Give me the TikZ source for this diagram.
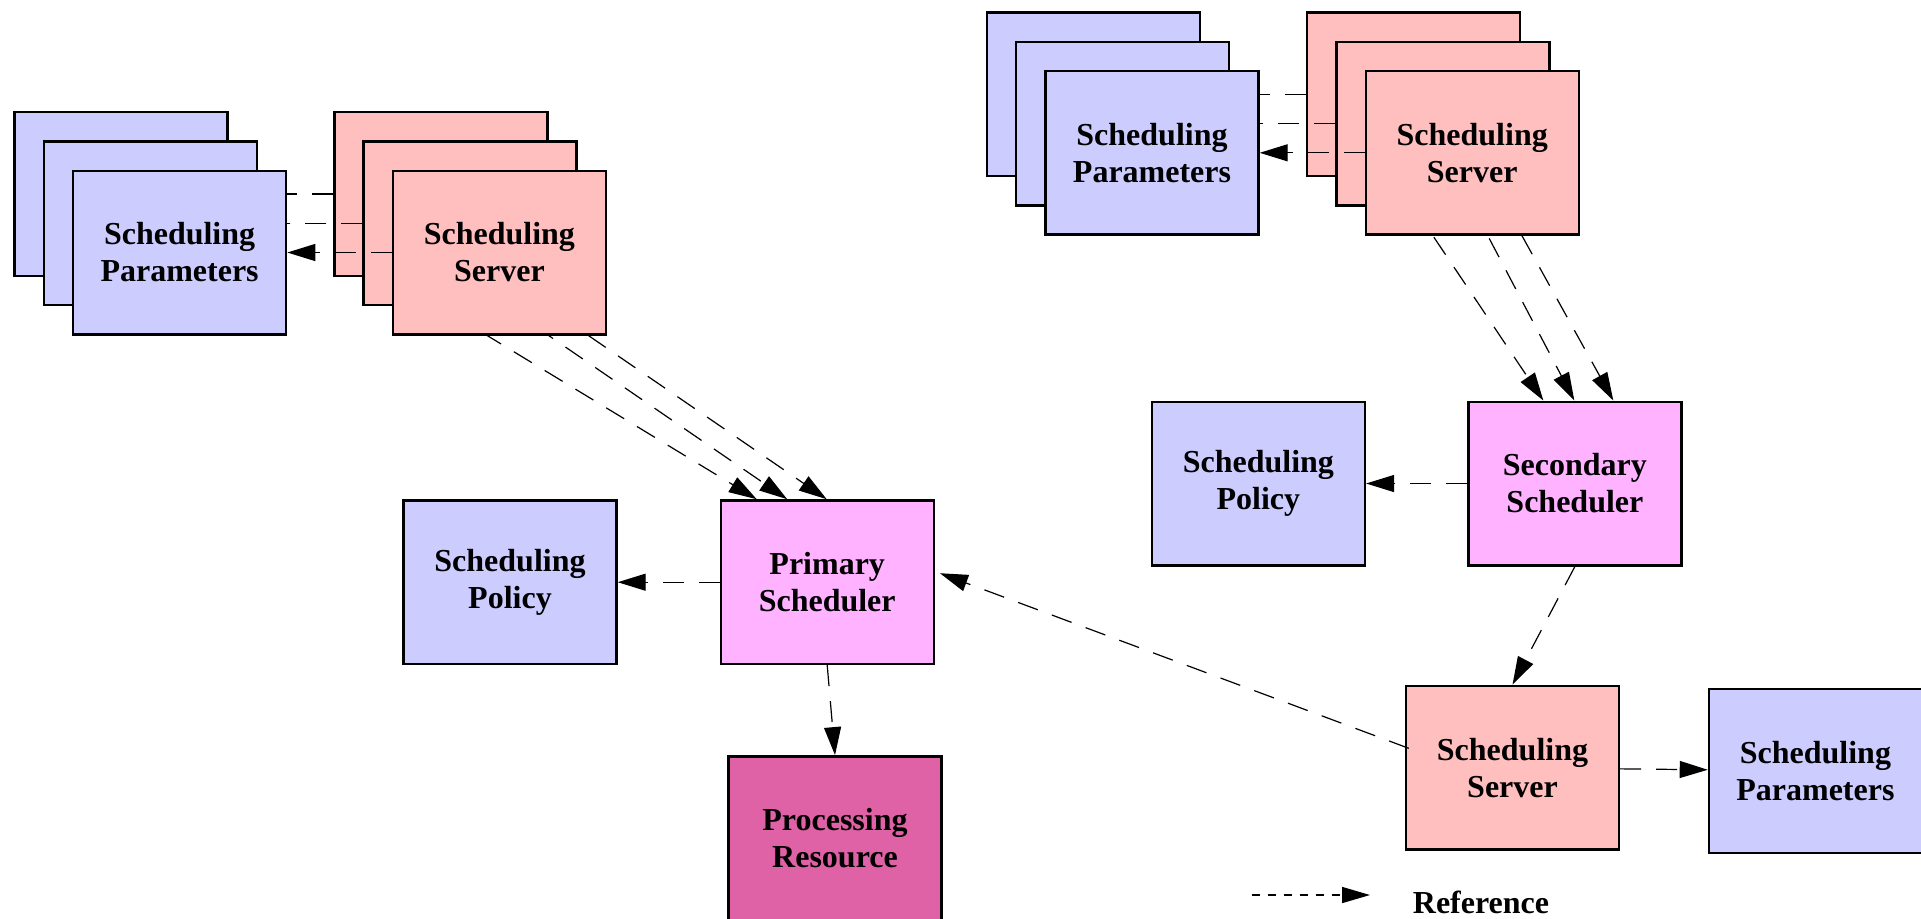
\documentclass[tikz,border=0pt]{standalone}
\usepackage{fontspec}
\setmainfont{Liberation Serif}
\usetikzlibrary{arrows.meta,calc}
\definecolor{parblue}{RGB}{204,204,255}
\definecolor{srvpink}{RGB}{255,191,191}
\definecolor{schedmag}{RGB}{255,178,255}
\definecolor{resmag}{RGB}{224,98,166}

\begin{document}
\begin{tikzpicture}[x=0.5pt,y=-0.5pt,
  box/.style={draw=black, line width=1.2pt, minimum width=106.5pt, minimum height=81.8pt,
              inner sep=0pt, align=center, font=\fontsize{16}{18.5}\selectfont\bfseries},
  params/.style={box, fill=parblue},
  server/.style={box, fill=srvpink},
  sched/.style={box, fill=schedmag},
  resource/.style={box, fill=resmag},
  ref/.style={line width=0.6pt, dash pattern=on 10.5pt off 7.5pt,
              -{Triangle[length=14pt,width=8.5pt]}},
  legendref/.style={line width=0.8pt, dash pattern=on 4pt off 4pt,
              -{Triangle[length=14pt,width=8pt]}},
]
\useasboundingbox (0,0) rectangle (1921,918);

% ---- schedulers, policies, resource ----
\node[sched] (prim) at (827.2,582.2) {Primary\\Scheduler};
\node[params] (lpol) at (510,582.2) {Scheduling\\Policy};
\node[resource] (proc) at (835,838.1) {Processing\\Resource};
\node[sched] (sec) at (1574.9,483.5) {Secondary\\Scheduler};
\node[params] (rpol) at (1258.4,483.5) {Scheduling\\Policy};
\node[server] (bsrv) at (1512.5,767.7) {Scheduling\\Server};
\node[params] (bpar) at (1815.4,770.9) {Scheduling\\Parameters};

% ---- left stack: parameters / servers, back to front ----
\node[params] (lp1) at (121,194) {};
\node[server] (ls1) at (440.8,194) {};
\draw[ref] (ls1) -- (lp1);
\draw[ref] ($(ls1.south)+(-50,0)$) -- ($(prim.north)+(-70.5,0)$);
\node[params] (lp2) at (150.3,223.3) {};
\node[server] (ls2) at (470.1,223.3) {};
\draw[ref] (ls2) -- (lp2);
\draw[ref] ($(ls2.south)+(36,0)$) -- ($(prim.north)+(-40,0)$);
\node[params] (lp3) at (179.6,252.5) {Scheduling\\Parameters};
\node[server] (ls3) at (499.4,252.5) {Scheduling\\Server};
\draw[ref] (ls3) -- (lp3);
\draw[ref] ($(ls3.south)+(89,0)$) -- ($(prim.north)+(-0.5,0)$);

% ---- top-right stack ----
\node[params] (tp1) at (1093.4,94.4) {};
\node[server] (ts1) at (1413.6,94.4) {};
\draw[ref] (ts1) -- (tp1);
\draw[ref] ($(ts1.south)+(-19.8,0)$) -- ($(sec.north)+(-31.6,0)$);
\node[params] (tp2) at (1122.7,123.6) {};
\node[server] (ts2) at (1442.9,123.6) {};
\draw[ref] (ts2) -- (tp2);
\draw[ref] ($(ts2.south)+(29.6,0)$) -- ($(sec.north)+(-0.6,0)$);
\node[params] (tp3) at (1152,152.8) {Scheduling\\Parameters};
\node[server] (ts3) at (1472.2,152.8) {Scheduling\\Server};
\draw[ref] (ts3) -- (tp3);
\draw[ref] ($(ts3.south)+(49.8,0)$) -- ($(sec.north)+(38.4,0)$);

% ---- remaining references ----
\draw[ref] (prim) -- (lpol);
\draw[ref] (prim.south) -- (proc.north);
\draw[ref] (sec) -- (rpol);
\draw[ref] (sec.south) -- (bsrv.north);
\draw[ref] (bsrv) -- (bpar);
\draw[ref] ($(bsrv.west)+(4,-19.4)$) -- ($(prim.east)+(5,-9)$);

% ---- legend ----
\coordinate (lg0) at (1251.7,895);
\coordinate (lg1) at (1370,895);
\draw[legendref] (lg0) -- (lg1);
\node[font=\fontsize{16}{18.5}\selectfont\bfseries, inner sep=0pt] (lgtxt) at (1481,902) {Reference};
\end{tikzpicture}
\end{document}
